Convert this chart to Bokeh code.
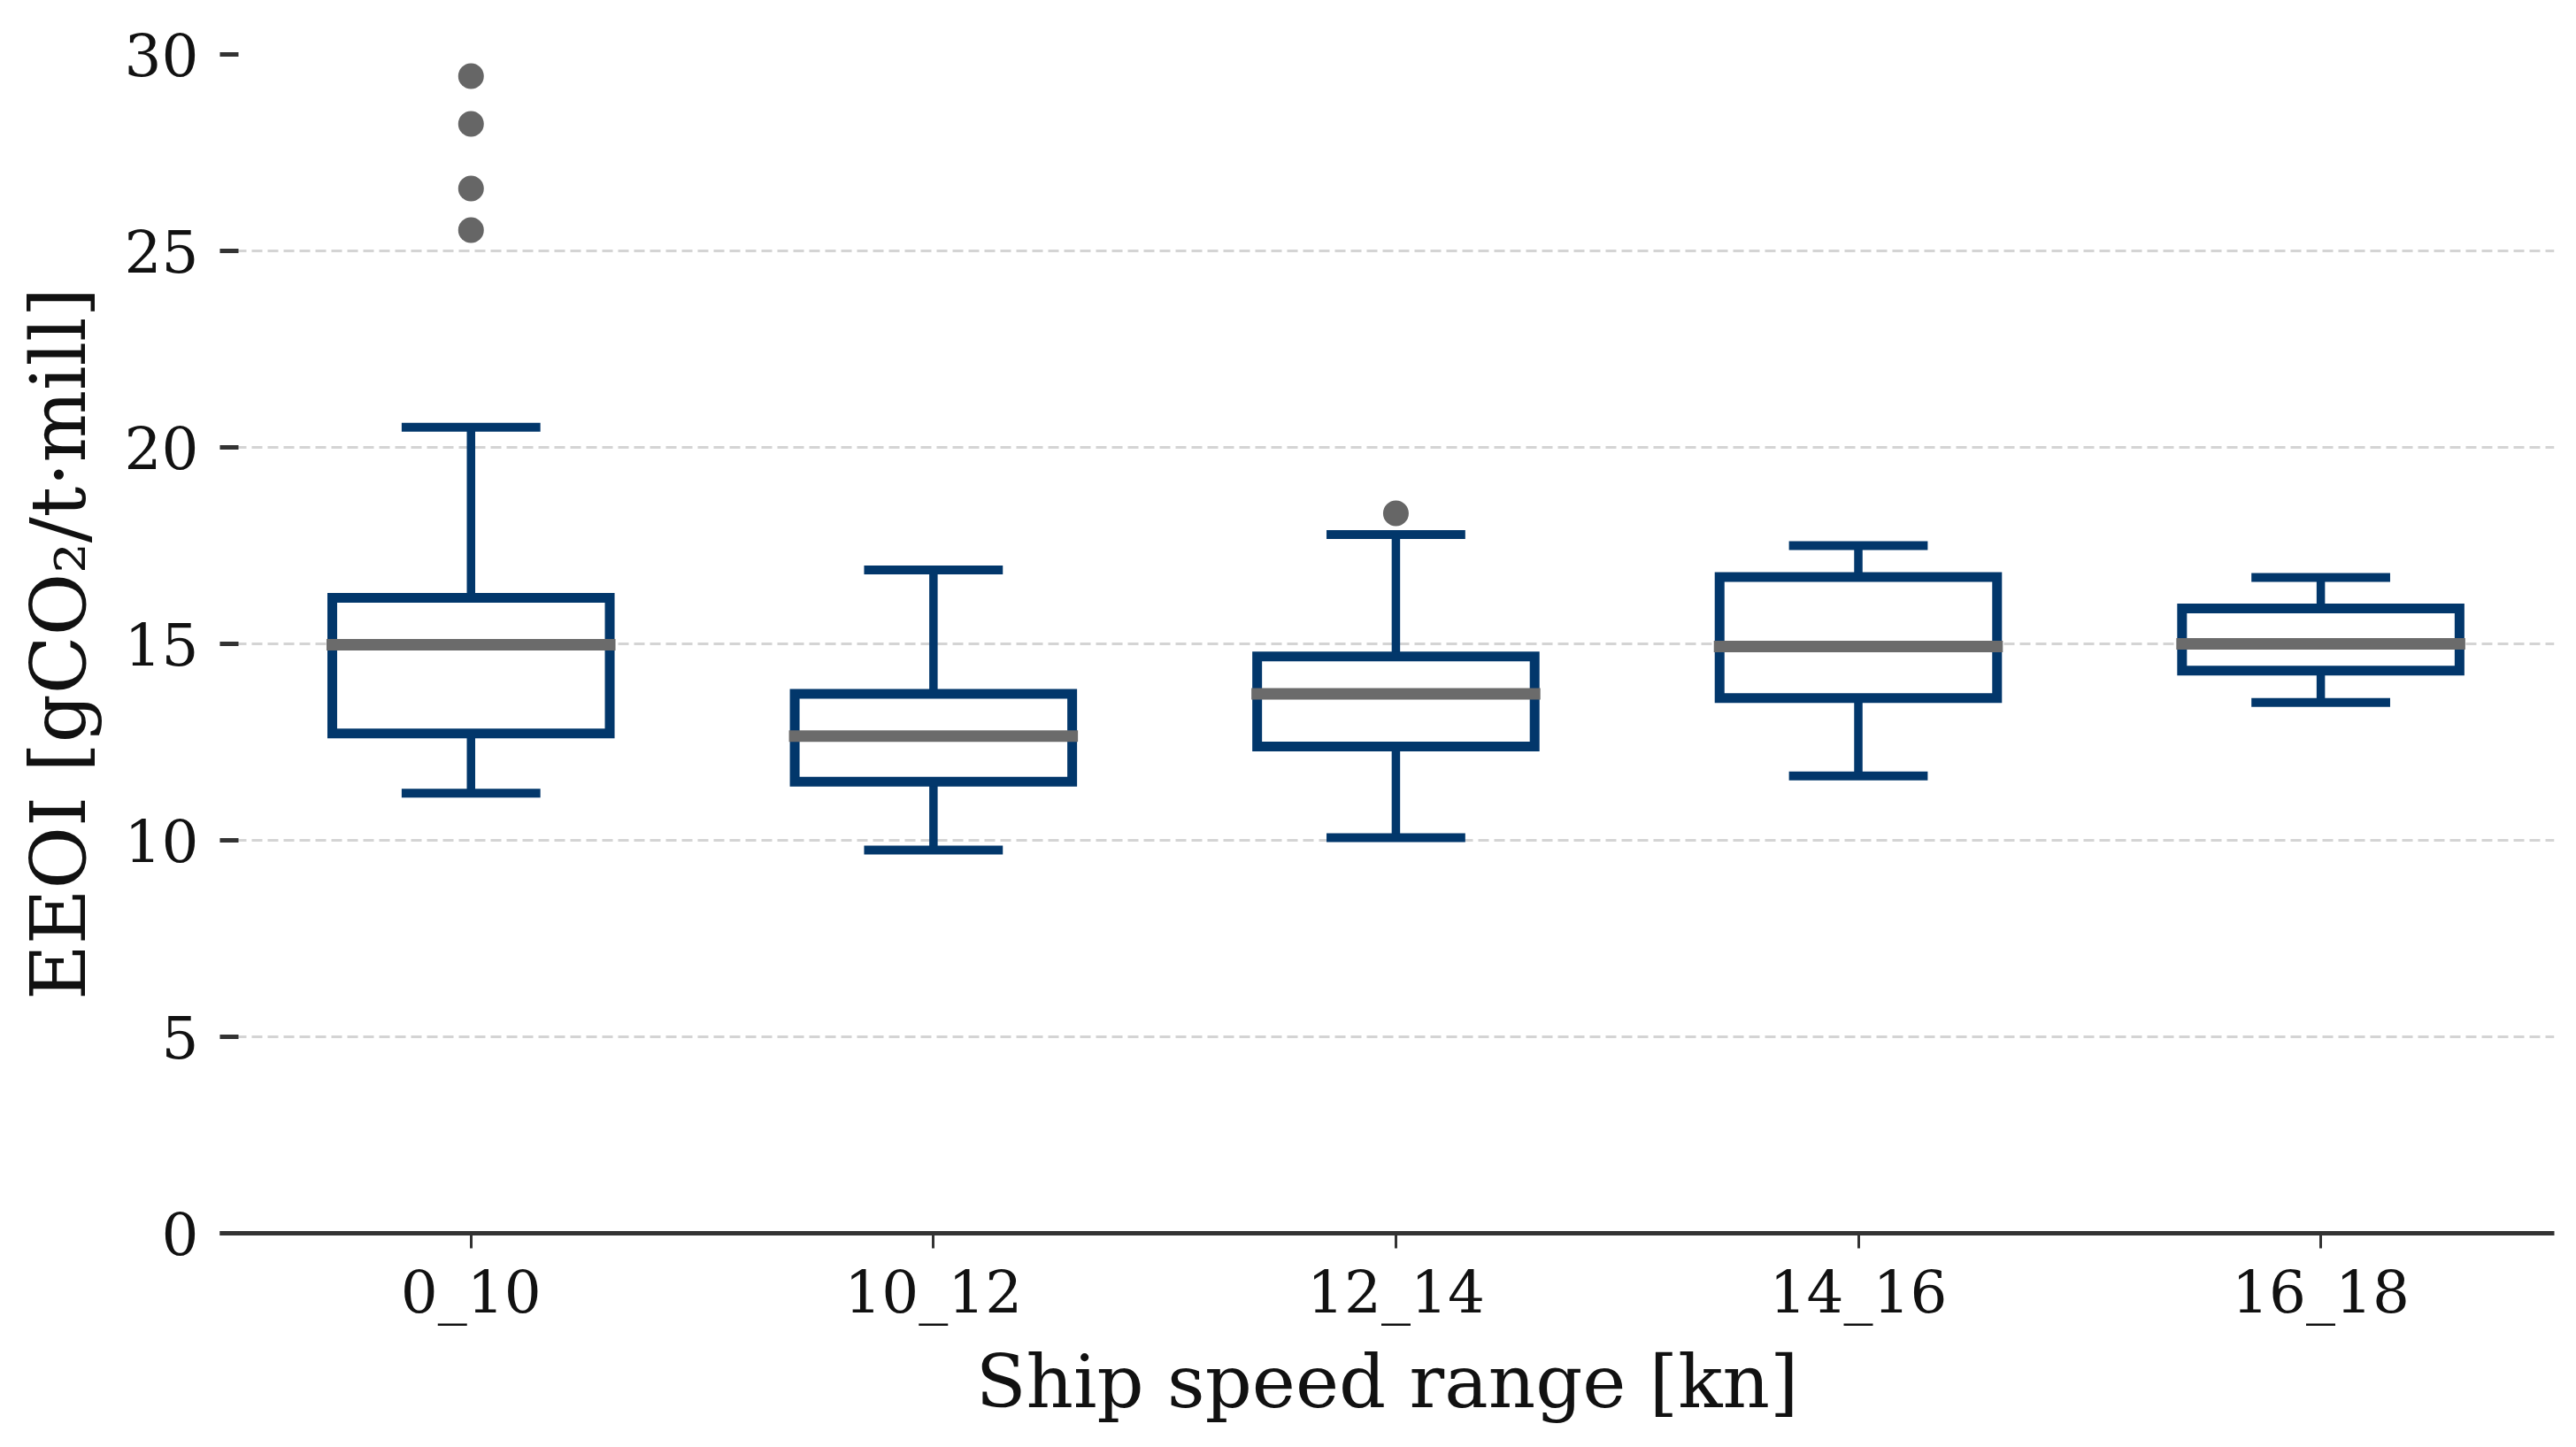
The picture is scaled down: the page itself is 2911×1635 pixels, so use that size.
from bokeh.plotting import figure
from bokeh.models import Range1d, FixedTicker, ColumnDataSource
from bokeh.embed import file_html
from bokeh.resources import INLINE

categories = ["0_10", "10_12", "12_14", "14_16", "16_18"]
lower_whisker = [11.20, 9.75, 10.07, 11.64, 13.51]
q1 = [12.72, 11.49, 12.39, 13.62, 14.32]
median = [14.98, 12.65, 13.73, 14.93, 15.00]
q3 = [16.17, 13.73, 14.68, 16.70, 15.90]
upper_whisker = [20.51, 16.88, 17.78, 17.50, 16.69]
outlier_cat = ["0_10", "0_10", "0_10", "0_10", "12_14"]
outlier_val = [29.45, 28.23, 26.59, 25.53, 18.32]
y_ticks = [0, 5, 10, 15, 20, 25, 30]

NAVY = "#02376b"
GREY = "#6b6b6b"
FONT = "DejaVu Serif"

pos = list(range(len(categories)))
box_w = 0.6
cap_w = 0.3

src = ColumnDataSource(dict(
    x=pos,
    left=[p_ - box_w / 2 for p_ in pos],
    right=[p_ + box_w / 2 for p_ in pos],
    cl=[p_ - cap_w / 2 for p_ in pos],
    cr=[p_ + cap_w / 2 for p_ in pos],
    lw=lower_whisker, q1=q1, med=median, q3=q3, uw=upper_whisker,
))
out_src = ColumnDataSource(dict(
    x=[categories.index(c) for c in outlier_cat], y=outlier_val))

p = figure(width=2895, height=1619, output_backend="svg", toolbar_location=None,
           x_range=Range1d(-0.543, 4.505), y_range=Range1d(0, 30),
           min_border_left=248, min_border_right=9, min_border_top=61,
           min_border_bottom=226)
p.outline_line_color = None
p.background_fill_color = "white"
p.border_fill_color = "white"

# grid
p.xgrid.visible = False
p.ygrid.ticker = FixedTicker(ticks=y_ticks[1:])
p.ygrid.grid_line_color = "#d4d4d4"
p.ygrid.grid_line_width = 3
p.ygrid.grid_line_dash = "12 6"

# whiskers
p.segment(x0="x", y0="q3", x1="x", y1="uw", source=src, line_color=NAVY,
          line_width=9.5, line_cap="butt")
p.segment(x0="x", y0="lw", x1="x", y1="q1", source=src, line_color=NAVY,
          line_width=9.5, line_cap="butt")
p.segment(x0="cl", y0="uw", x1="cr", y1="uw", source=src, line_color=NAVY,
          line_width=10, line_cap="butt")
p.segment(x0="cl", y0="lw", x1="cr", y1="lw", source=src, line_color=NAVY,
          line_width=10, line_cap="butt")
# boxes
p.quad(left="left", right="right", bottom="q1", top="q3", source=src,
       fill_color="white", line_color=NAVY, line_width=11, line_join="miter")
# medians
p.segment(x0="left", y0="med", x1="right", y1="med", source=src,
          line_color=GREY, line_width=13, line_cap="square")
# outliers
p.scatter(x="x", y="y", source=out_src, size=29, fill_color="#666666",
          line_color=None)

# x axis
xa = p.xaxis[0]
xa.ticker = FixedTicker(ticks=pos)
xa.major_label_overrides = {i: c for i, c in enumerate(categories)}
xa.minor_tick_line_color = None
xa.axis_line_color = "#333333"
xa.axis_line_width = 5
xa.major_tick_line_color = "#333333"
xa.major_tick_line_width = 3
xa.major_tick_out = 17
xa.major_tick_in = 0
xa.major_label_standoff = 11
xa.major_label_text_font = FONT
xa.major_label_text_font_size = "66px"
xa.major_label_text_color = "#111111"
xa.axis_label = "Ship speed range [kn]"
xa.axis_label_text_font = FONT
xa.axis_label_text_font_size = "83px"
xa.axis_label_text_font_style = "normal"
xa.axis_label_text_color = "#111111"
xa.axis_label_standoff = 11

# y axis
ya = p.yaxis[0]
ya.ticker = FixedTicker(ticks=y_ticks)
ya.minor_tick_line_color = None
ya.axis_line_color = None
ya.major_tick_line_color = "#333333"
ya.major_tick_line_width = 5
ya.major_tick_in = 21
ya.major_tick_out = 0
ya.major_label_standoff = 24
ya.major_label_text_font = FONT
ya.major_label_text_font_size = "66px"
ya.major_label_text_color = "#111111"
ya.axis_label = "EEOI [gCO₂/t·mill]"
ya.axis_label_text_font = FONT
ya.axis_label_text_font_size = "86px"
ya.axis_label_text_font_style = "normal"
ya.axis_label_text_color = "#111111"
ya.axis_label_standoff = 22

open("out.html", "w").write(file_html(p, INLINE))
